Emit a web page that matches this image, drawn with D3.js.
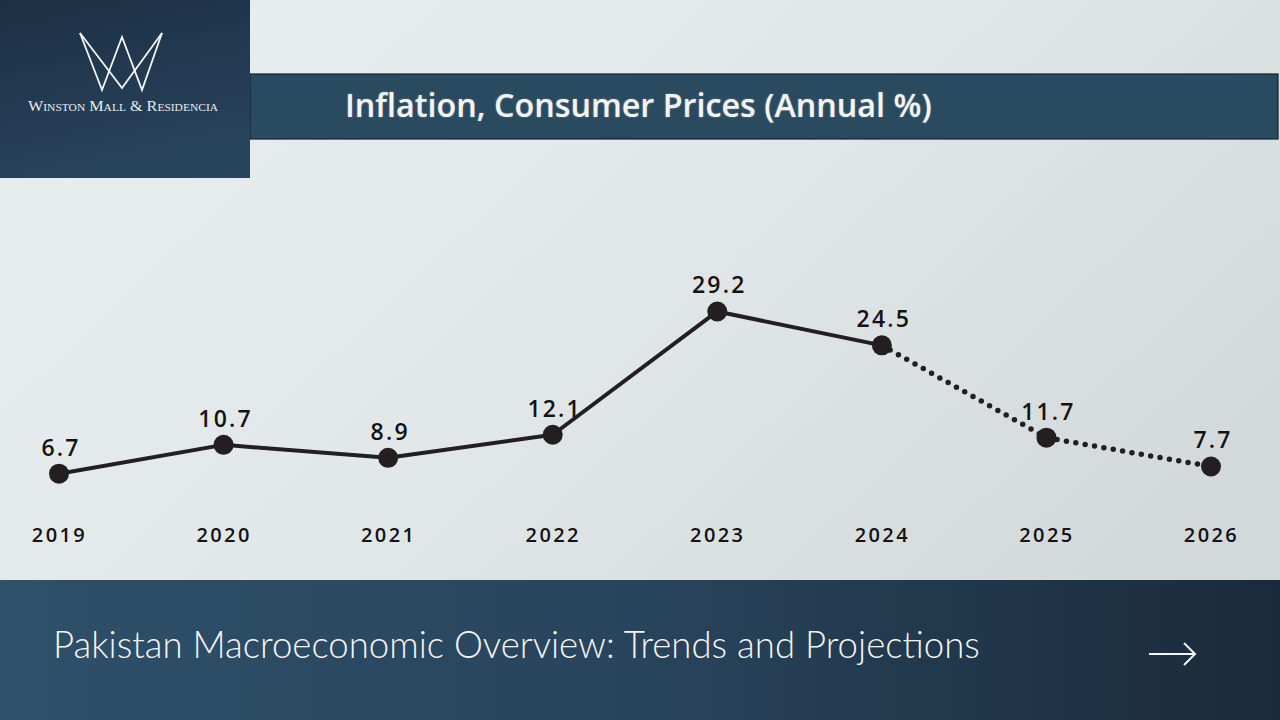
<!DOCTYPE html>
<html><head><meta charset="utf-8">
<script src="https://cdn.jsdelivr.net/npm/d3@7"></script>
<style>html,body{margin:0;padding:0;overflow:hidden;background:#e2e8ea}</style>
</head><body>
<svg id="c" width="1280" height="720"></svg>
<script>
const years = ["2019","2020","2021","2022","2023","2024","2025","2026"];
const inflation = [6.7, 10.7, 8.9, 12.1, 29.2, 24.5, 11.7, 7.7];
const projectedFrom = "2024"; // 2024 onward drawn dotted (projections)
const chartTitle = "Inflation, Consumer Prices (Annual %)";
const footerTitle = "Pakistan Macroeconomic Overview: Trends and Projections";
const brand = "Winston Mall & Residencia";

const svg = d3.select("#c");
const defs = svg.append("defs");

const bg = defs.append("linearGradient").attr("id","bg").attr("x1","0").attr("y1","0").attr("x2","1").attr("y2","0.6");
bg.append("stop").attr("offset","0").attr("stop-color","#e9eff1");
bg.append("stop").attr("offset","0.55").attr("stop-color","#e1e7e9");
bg.append("stop").attr("offset","1").attr("stop-color","#d3d9db");

const foot = defs.append("linearGradient").attr("id","foot").attr("x1","0").attr("y1","0").attr("x2","1").attr("y2","0");
foot.append("stop").attr("offset","0").attr("stop-color","#2f5069");
foot.append("stop").attr("offset","0.5").attr("stop-color","#28445c");
foot.append("stop").attr("offset","1").attr("stop-color","#1a2a3a");

const logoG = defs.append("linearGradient").attr("id","logo").attr("x1","0").attr("y1","0").attr("x2","0.3").attr("y2","1");
logoG.append("stop").attr("offset","0").attr("stop-color","#1c2f44");
logoG.append("stop").attr("offset","1").attr("stop-color","#28435c");

svg.append("rect").attr("width",1280).attr("height",720).attr("fill","url(#bg)");

// title bar
svg.append("rect").attr("x",250).attr("y",74).attr("width",1028).attr("height",65)
  .attr("fill","#2a4a60").attr("stroke","#14222e").attr("stroke-width",1.2);
svg.append("text").attr("x",345).attr("y",117)
  .attr("font-family","'Open Sans', Lato, sans-serif").attr("font-weight",600)
  .attr("font-size",26).attr("fill","#f2f4f5")
  .attr("style","text-shadow:0 0 2px rgba(255,255,255,0.35)")
  .text(chartTitle)
  .each(function(){ const w=this.getComputedTextLength(); d3.select(this).attr("font-size",26*587/w); });

// logo box
svg.append("rect").attr("x",0).attr("y",0).attr("width",250).attr("height",178).attr("fill","url(#logo)");
const crown = [[[80,33],[102,90],[122,37],[142,90],[162,33]],[[80,33],[122,88],[162,33]]];
svg.append("g").selectAll("path").data(crown).join("path")
  .attr("d", d => d3.line()(d)).attr("fill","none").attr("stroke","#f4f6f8").attr("stroke-width",1.8).attr("stroke-linejoin","miter");
svg.append("text").attr("x",123).attr("y",111).attr("text-anchor","middle")
  .attr("font-family","'Liberation Serif', 'DejaVu Serif', serif").attr("font-size",15.5)
  .attr("fill","#e8ecef").attr("style","font-variant:small-caps")
  .attr("textLength",190).attr("lengthAdjust","spacingAndGlyphs")
  .text(brand);

// footer
svg.append("rect").attr("x",0).attr("y",580).attr("width",1280).attr("height",140).attr("fill","url(#foot)");
svg.append("text").attr("x",53).attr("y",658)
  .attr("font-family","Lato, 'Open Sans', sans-serif").attr("font-weight",300)
  .attr("font-size",30).attr("fill","#f3f5f7")
  .text(footerTitle)
  .each(function(){ const w=this.getComputedTextLength(); d3.select(this).attr("font-size",30*927/w); });
svg.append("path").attr("d","M1149,654 H1195 M1184,643 L1195,654 L1184,665")
  .attr("fill","none").attr("stroke","#f3f5f7").attr("stroke-width",2);

// chart
const x = d3.scalePoint().domain(years).range([59, 1211]);
const y = d3.scaleLinear().domain([0, 30]).range([522, 305.7]);
const data = years.map((yr,i)=>({year:yr, v:inflation[i]}));
const split = years.indexOf(projectedFrom);
const line = d3.line().x(d=>x(d.year)).y(d=>y(d.v));
const ink = "#231f20";

svg.append("path").datum(data.slice(0, split+1)).attr("d", line)
  .attr("fill","none").attr("stroke",ink).attr("stroke-width",4).attr("stroke-linejoin","round");
svg.append("path").datum(data.slice(split)).attr("d", line)
  .attr("fill","none").attr("stroke",ink).attr("stroke-width",5.5)
  .attr("stroke-linecap","round").attr("stroke-dasharray","0 9.5");

svg.append("g").selectAll("circle").data(data).join("circle")
  .attr("cx",d=>x(d.year)).attr("cy",d=>y(d.v)).attr("r",10).attr("fill",ink);

svg.append("g").selectAll("text").data(data).join("text")
  .attr("x",d=>x(d.year)+2).attr("y",d=>y(d.v)-18).attr("text-anchor","middle")
  .attr("font-family","'Open Sans', Lato, sans-serif").attr("font-weight",600)
  .attr("font-size",23).attr("fill","#141213").attr("letter-spacing",2.2)
  .text(d=>d.v.toFixed(1));

const ax = svg.append("g").attr("transform","translate(0,524)")
  .call(d3.axisBottom(x).tickSize(0).tickPadding(0));
ax.select(".domain").remove();
ax.selectAll("text").attr("dy","18").attr("font-family","'Open Sans', Lato, sans-serif")
  .attr("font-weight",600).attr("font-size",20).attr("fill","#141213").attr("letter-spacing",2.4);
</script>
</body></html>
